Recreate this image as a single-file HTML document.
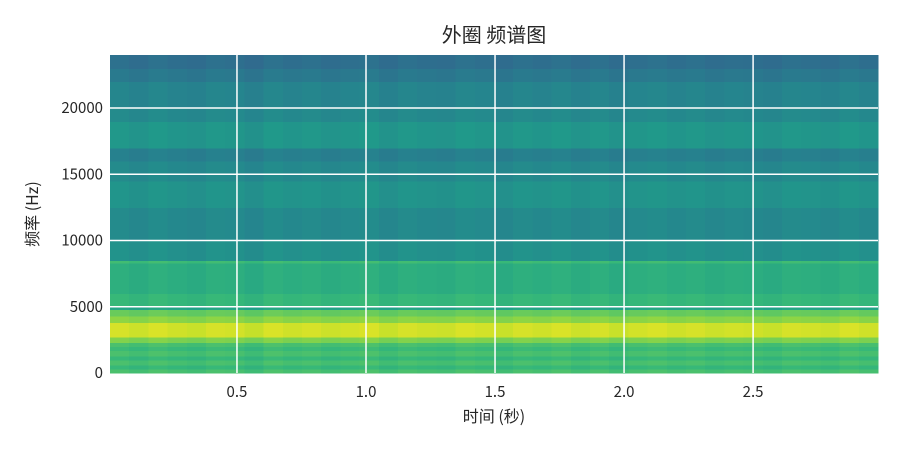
<!DOCTYPE html>
<html><head><meta charset="utf-8"><style>
body{margin:0;background:#fff;}
svg text{font-family:"WenQuanYi Zen Hei","Noto Sans CJK SC",sans-serif;fill:#262626;}
</style></head><body>
<svg id="chart" width="900" height="450" xmlns="http://www.w3.org/2000/svg">
<text x="494" y="42" font-size="20" text-anchor="middle">外圈 频谱图</text>
<g id="cells"></g>
<g id="grid"></g>
<g id="xticks"></g>
<g id="yticks"></g>
<text x="494" y="422" font-size="16" text-anchor="middle">时间 (秒)</text>
<text x="38" y="214" font-size="16" text-anchor="middle" transform="rotate(-90 38 214)">频率 (Hz)</text>
</svg>
<script>
// frequency band edges (Hz) and intensity (0..1 colormap)
const bandEdges = [0,300,600,1000,1300,1700,2000,2300,2700,3800,4300,4800,5000,6000,8300,8500,10000,12500,14500,16000,17000,19000,20000,22000,23000,24000];
const bandLevels = [0.70,0.66,0.70,0.66,0.70,0.67,0.70,0.80,0.93,0.82,0.76,0.58,0.66,0.62,0.68,0.50,0.47,0.51,0.47,0.43,0.52,0.47,0.45,0.40,0.36];
const timeOffsets = [0.01,-0.005,0.015,0.0,-0.01,0.01,0.005,-0.015,0.015,0.0,0.01,-0.005,0.005,0.015,-0.01,0.01,0.0,-0.005,0.015,0.005,-0.01,0.01,0.0,0.015,-0.005,0.01,-0.01,0.005,0.015,0.0,0.01,-0.005,0.005,0.0,-0.01,0.01,0.005,-0.005,0.015,0.0];
const xTicks = [0.5,1.0,1.5,2.0,2.5];
const yTicks = [0,5000,10000,15000,20000];
const tMin=0.008,tMax=2.984,fMax=24000;
const L=110,R=878,T=55,B=373;
const xs=t=>L+(t-tMin)/(tMax-tMin)*(R-L);
const ys=f=>B-f/fMax*(B-T);
const vir=[[68,1,84],[72,40,120],[62,74,137],[49,104,142],[38,130,142],[31,158,137],[53,183,121],[109,205,89],[180,222,44],[253,231,37]];
function cmap(v){v=Math.max(0,Math.min(1,v));const p=v*9,i=Math.min(8,Math.floor(p)),f=p-i;const a=vir[i],b=vir[i+1];return `rgb(${a.map((c,k)=>Math.round(c+(b[k]-c)*f)).join(',')})`;}
const NS='http://www.w3.org/2000/svg';
const cells=document.getElementById('cells');
const nT=timeOffsets.length,dt=(tMax-tMin)/nT;
for(let b=0;b<bandLevels.length;b++){
  for(let j=0;j<nT;j++){
    const r=document.createElementNS(NS,'rect');
    const x0=xs(tMin+j*dt),x1=xs(tMin+(j+1)*dt);
    const y0=ys(bandEdges[b+1]),y1=ys(bandEdges[b]);
    r.setAttribute('x',x0);r.setAttribute('y',y0);
    r.setAttribute('width',x1-x0+0.5);r.setAttribute('height',y1-y0+0.5);
    r.setAttribute('fill',cmap(bandLevels[b]+timeOffsets[j]));
    r.setAttribute('shape-rendering','crispEdges');
    
    
    cells.appendChild(r);
  }
}
const grid=document.getElementById('grid');
xTicks.forEach(t=>{
  const l=document.createElementNS(NS,'line');
  l.setAttribute('x1',xs(t));l.setAttribute('x2',xs(t));l.setAttribute('y1',T);l.setAttribute('y2',B);
  l.setAttribute('stroke','#fff');l.setAttribute('stroke-width','1.5');
  
  
  grid.appendChild(l);
  const tx=document.createElementNS(NS,'text');
  tx.setAttribute('x',xs(t));tx.setAttribute('y',B+24);tx.setAttribute('font-size','15');tx.setAttribute('text-anchor','middle');
  tx.textContent=t.toFixed(1);
  
  
  document.getElementById('xticks').appendChild(tx);
});
yTicks.forEach(f=>{
  if(f>0){
  const l=document.createElementNS(NS,'line');
  l.setAttribute('x1',L);l.setAttribute('x2',R);l.setAttribute('y1',ys(f));l.setAttribute('y2',ys(f));
  l.setAttribute('stroke','#fff');l.setAttribute('stroke-width','1.5');
  
  
  grid.appendChild(l);}
  const tx=document.createElementNS(NS,'text');
  tx.setAttribute('x',L-7);tx.setAttribute('y',ys(f)+5);tx.setAttribute('font-size','15');tx.setAttribute('text-anchor','end');
  tx.textContent=String(f);
  
  
  document.getElementById('yticks').appendChild(tx);
});
</script>
</body></html>
